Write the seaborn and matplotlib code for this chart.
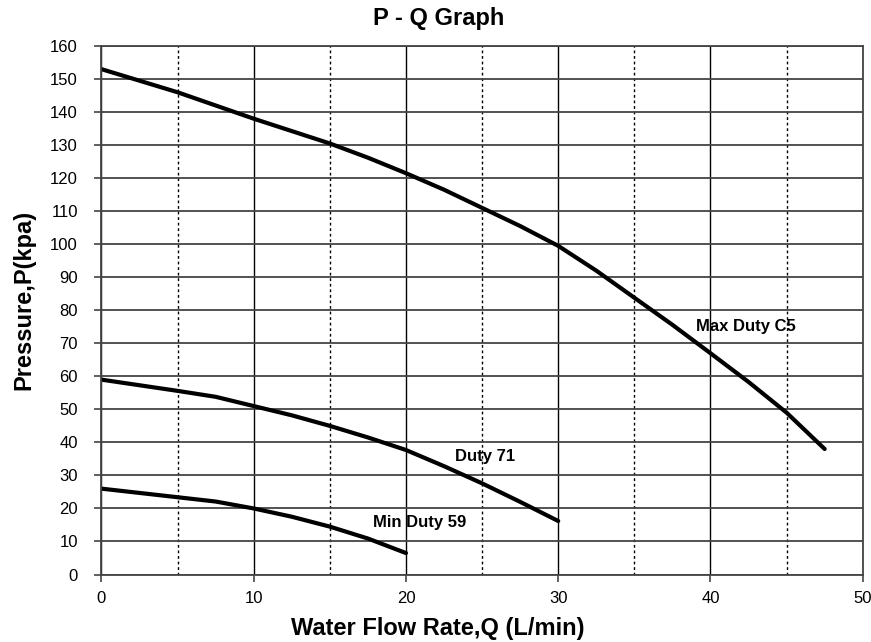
import pandas as pd
import seaborn as sns
import matplotlib.pyplot as plt
from matplotlib.ticker import MultipleLocator

# flow rate (L/min) and pressure (kpa)
max_q = [0, 5, 10, 15, 17.5, 20, 22.5, 25, 27.5, 30, 32.5, 35, 37.5, 40, 42.5, 45, 47.5]
max_p = [153, 146, 138, 130.5, 126.2, 121.5, 116.5, 111, 105.5, 99.5, 92, 83.8, 75.6, 67, 58.3, 49, 38]

duty71_q = [0, 5, 7.5, 10, 12.5, 15, 17.5, 20, 22.5, 25, 27.5, 30]
duty71_p = [59, 55.6, 53.8, 51, 48.2, 45, 41.5, 37.7, 32.8, 27.6, 22, 16.2]

min_q = [0, 5, 7.5, 10, 12.5, 15, 17.5, 20]
min_p = [26, 23.4, 22.1, 20, 17.5, 14.5, 10.9, 6.5]

curve_names = ['Max Duty C5', 'Duty 71', 'Min Duty 59']
label_pos = [(42.3, 75), (25.2, 35.7), (20.9, 15.7)]

frames = []
for name, q, p in zip(curve_names, [max_q, duty71_q, min_q], [max_p, duty71_p, min_p]):
    frames.append(pd.DataFrame({'Q': q, 'P': p, 'curve': name}))
df = pd.concat(frames)

sns.set_style('ticks')
plt.rcParams['font.family'] = ['Liberation Sans', 'DejaVu Sans']
plt.rcParams['text.color'] = 'black'
plt.rcParams['xtick.color'] = 'black'
plt.rcParams['ytick.color'] = 'black'
plt.rcParams['axes.labelcolor'] = 'black'

fig = plt.figure(figsize=(8.71, 6.42), dpi=100)
ax = fig.add_axes([0.1165, 0.1051, 0.874, 0.8232])

sns.lineplot(data=df, x='Q', y='P', units='curve', estimator=None,
             color='black', linewidth=3, sort=False, ax=ax)

ax.set_xlim(0, 50)
ax.set_ylim(0, 160)
ax.xaxis.set_major_locator(MultipleLocator(10))
ax.xaxis.set_minor_locator(MultipleLocator(5))
ax.yaxis.set_major_locator(MultipleLocator(10))

# grid: grey horizontals, solid black at 10s, dotted at 5s
ax.grid(axis='y', which='major', color='#444444', linewidth=1.3, linestyle='-')
ax.grid(axis='x', which='major', color='black', linewidth=1.0, linestyle='-')
ax.grid(axis='x', which='minor', color='black', linewidth=1.0, linestyle=(0, (2, 2)))
ax.set_axisbelow(True)

for s in ax.spines.values():
    s.set_color('#444444')
    s.set_linewidth(1.3)

ax.tick_params(axis='both', which='major', direction='out', length=5, width=1.2,
               color='#444444', labelcolor='black', labelsize=12)
ax.tick_params(axis='y', which='major', pad=12)
ax.tick_params(axis='x', which='major', pad=7)
ax.tick_params(axis='x', which='minor', length=0)

ax.set_xlabel('')
ax.set_ylabel('')

for name, (x, y) in zip(curve_names, label_pos):
    ax.text(x, y, name, ha='center', va='center', fontsize=12, fontweight='bold', color='black')

fig.text(0.5032, 1 - 25 / 642, 'P - Q Graph', ha='center', va='baseline',
         fontsize=17, fontweight='bold')
fig.text(0.5023, 1 - 635 / 642, 'Water Flow Rate,Q (L/min)', ha='center', va='baseline',
         fontsize=17, fontweight='bold')
fig.text(12 / 871, 1 - 300 / 642, 'Pressure,P(kpa)', ha='left', va='center',
         rotation=90, fontsize=17, fontweight='bold')

fig.savefig('out.png', dpi=100)
